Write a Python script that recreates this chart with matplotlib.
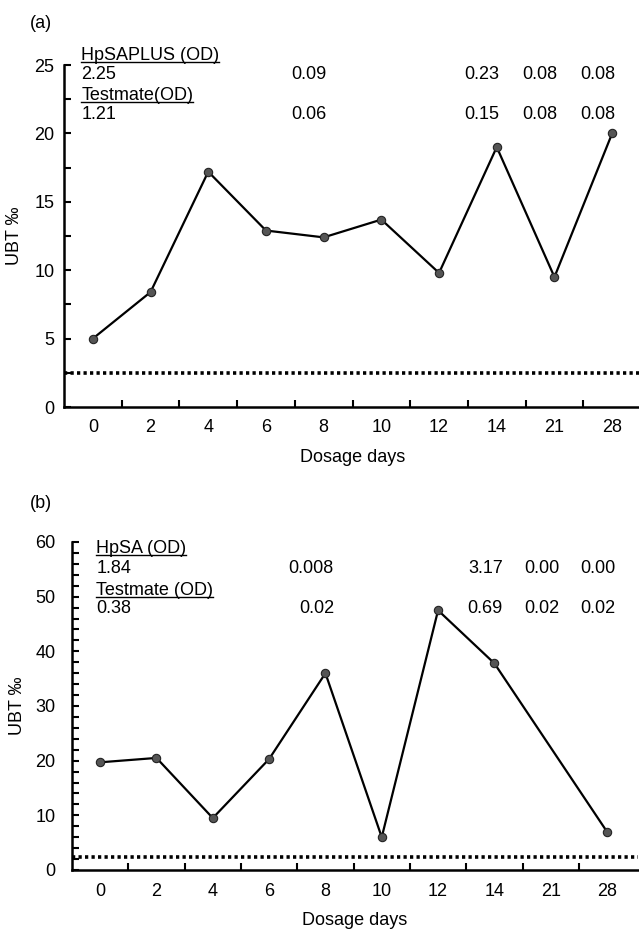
import numpy as np
import matplotlib as mpl
mpl.use('Agg')
import matplotlib.pyplot as plt
from matplotlib.lines import Line2D
from matplotlib.ticker import MultipleLocator

plt.rcParams['font.family'] = ['Liberation Sans', 'DejaVu Sans']

days = ['0', '2', '4', '6', '8', '10', '12', '14', '21', '28']

ubt_a = [5.0, 8.4, 17.2, 12.9, 12.4, 13.7, 9.8, 19.0, 9.5, 20.0]
ubt_b = [19.7, 20.5, 9.5, 20.3, 36.0, 6.0, 47.5, 37.8, np.nan, 7.0]
cutoff_a = 2.5
cutoff_b = 2.3

# OD readings printed over the curves (category index -> text)
od_a_name = ['HpSAPLUS (OD)', 'Testmate(OD)']
od_a_first = ['2.25', '1.21']
od_a_idx = [4, 7, 8, 9]
od_a_vals = [['0.09', '0.23', '0.08', '0.08'],
             ['0.06', '0.15', '0.08', '0.08']]

od_b_name = ['HpSA (OD)', 'Testmate (OD)']
od_b_first = ['1.84', '0.38']
od_b_idx = [4, 7, 8, 9]
od_b_vals = [['0.008', '3.17', '0.00', '0.00'],
             ['0.02', '0.69', '0.02', '0.02']]

W, H = 639, 933
FS = 13
fig = plt.figure(figsize=(W / 100, H / 100), dpi=100)

def box(l, r, t, b):
    return [l / W, 1 - b / H, (r - l) / W, (b - t) / H]

ax_a = fig.add_axes(box(64, 641, 65, 407))
ax_b = fig.add_axes(box(72, 638, 542, 870))

x = np.arange(len(days))
underlined = []

def style(ax, vals, cutoff, ymax, major, minor, ypad):
    xs = x[~np.isnan(vals)]
    ys = np.array(vals)[~np.isnan(vals)]
    ax.plot(xs, ys, '-', color='black', lw=1.6, zorder=3)
    ax.plot(xs, ys, 'o', ms=6, mfc='#555555', mec='#222222', mew=0.8, zorder=4)
    ax.axhline(cutoff, color='black', lw=2.6, ls=(0, (0.9, 0.9)), zorder=2)
    ax.set_ylim(0, ymax)
    ax.set_xticks(x)
    ax.set_xticklabels(days, fontsize=FS)
    ax.set_xticks(np.arange(0.5, 9, 1), minor=True)
    ax.tick_params(axis='x', which='major', length=0, pad=9)
    ax.tick_params(axis='x', which='minor', direction='in', length=5, width=1.5)
    ax.yaxis.set_major_locator(MultipleLocator(major))
    ax.yaxis.set_minor_locator(MultipleLocator(minor))
    ax.tick_params(axis='y', which='both', direction='in', length=5, width=1.5,
                   labelsize=FS, pad=ypad)
    for s in ['top', 'right']:
        ax.spines[s].set_visible(False)
    for s in ['left', 'bottom']:
        ax.spines[s].set_linewidth(1.8)
    ax.set_xlabel('Dosage days', fontsize=FS, labelpad=9)
    ax.set_ylabel('UBT ‰', fontsize=FS)

def od_text(ax, names, firsts, idx, vals, x0, rows, dx):
    for k in range(2):
        t = ax.text(x0, rows[2 * k], names[k], fontsize=FS, ha='left',
                    va='center', clip_on=False)
        underlined.append(t)
        ax.text(x0, rows[2 * k + 1], firsts[k], fontsize=FS, ha='left',
                va='center', clip_on=False)
        for i, v in zip(idx, vals[k]):
            ax.text(i + dx, rows[2 * k + 1], v, fontsize=FS, ha='right',
                    va='center', clip_on=False)

style(ax_a, ubt_a, cutoff_a, 25, 5, 2.5, 7)
ax_a.set_xlim(-0.5, 9.5)
od_text(ax_a, od_a_name, od_a_first, od_a_idx, od_a_vals, -0.2,
        [25.7, 24.3, 22.8, 21.4], 0.05)

style(ax_b, ubt_b, cutoff_b, 60, 10, 2, 12)
ax_b.set_xlim(-0.5, 9.55)
od_text(ax_b, od_b_name, od_b_first, od_b_idx, od_b_vals, -0.07,
        [58.9, 55.2, 51.2, 47.9], 0.15)

ax_a.yaxis.set_label_coords(-0.071, 0.5)
ax_b.yaxis.set_label_coords(-0.081, 0.5)

fig.text(41 / W, 1 - 23 / H, '(a)', fontsize=FS, ha='center', va='center')
fig.text(41 / W, 1 - 503 / H, '(b)', fontsize=FS, ha='center', va='center')

# underline the instrument headings
fig.canvas.draw()
r = fig.canvas.get_renderer()
for t in underlined:
    bb = t.get_window_extent(r)
    y = (bb.y0 + 1.5) / fig.bbox.height
    fig.add_artist(Line2D([bb.x0 / fig.bbox.width, bb.x1 / fig.bbox.width], [y, y],
                          color='black', lw=1.0))

fig.savefig('out.png', dpi=100)
